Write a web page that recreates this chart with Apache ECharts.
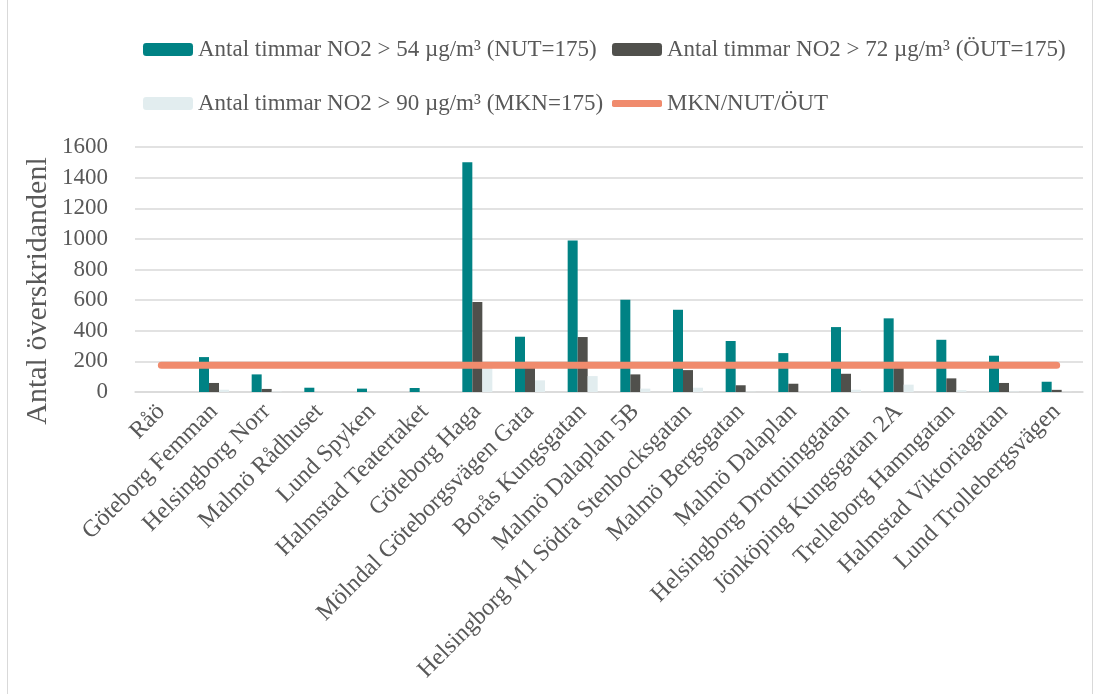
<!DOCTYPE html>
<html>
<head>
<meta charset="utf-8">
<script src="https://cdn.jsdelivr.net/npm/echarts@6/dist/echarts.min.js"></script>
<style>
  html, body { margin: 0; padding: 0; background: #ffffff; }
  #chart { width: 1099px; height: 694px; }
</style>
</head>
<body>
<div id="chart"></div>
<script>
// Mätstationer
const categories = [
  'Råö', 'Göteborg Femman', 'Helsingborg Norr', 'Malmö Rådhuset', 'Lund Spyken',
  'Halmstad Teatertaket', 'Göteborg Haga', 'Mölndal Göteborgsvägen Gata', 'Borås Kungsgatan',
  'Malmö Dalaplan 5B', 'Helsingborg M1 Södra Stenbocksgatan', 'Malmö Bergsgatan', 'Malmö Dalaplan',
  'Helsingborg Drottninggatan', 'Jönköping Kungsgatan 2A', 'Trelleborg Hamngatan',
  'Halmstad Viktoriagatan', 'Lund Trollebergsvägen'
];

// Antal timmar över respektive nivå
const over54 = [0, 228, 115, 28, 22, 26, 1501, 361, 989, 602, 537, 333, 254, 424, 481, 341, 237, 67];
const over72 = [0, 59, 20, 0, 0, 0, 587, 165, 359, 115, 143, 44, 54, 119, 165, 89, 59, 14];
const over90 = [0, 15, 3, 0, 0, 0, 180, 76, 104, 22, 28, 2, 0, 15, 48, 12, 3, 1];

// Gränsvärde (MKN/NUT/ÖUT = 175 timmar)
const limit = [175, 175, 175, 175, 175, 175, 175, 175, 175, 175, 175, 175, 175, 175, 175, 175, 175, 175];

const yTicks = { min: 0, max: 1600, interval: 200 };

const names = [
  'Antal timmar NO2 > 54 µg/m³ (NUT=175)',
  'Antal timmar NO2 > 72 µg/m³ (ÖUT=175)',
  'Antal timmar NO2 > 90 µg/m³ (MKN=175)',
  'MKN/NUT/ÖUT'
];

const FONT = '"Liberation Serif", "DejaVu Serif", serif';
const TEXT = '#595959';
const COLORS = ['#008284', '#50504C', '#E2EDEF', '#F08B6D'];

const legendText = { fontFamily: FONT, fontSize: 23, color: TEXT };
function legendAt(name, left, top, extra) {
  return Object.assign({
    data: [name], left: left, top: top, itemWidth: 50, itemHeight: 13,
    itemGap: 0, textStyle: legendText, selectedMode: false, padding: 0
  }, extra || {});
}

const chart = echarts.init(document.getElementById('chart'), null, { renderer: 'canvas' });

chart.setOption({
  animation: false,
  color: COLORS,
  textStyle: { fontFamily: FONT },
  legend: [
    legendAt(names[0], 143, 38),
    legendAt(names[1], 612, 38),
    legendAt(names[2], 143, 92),
    legendAt(names[3], 612, 92, {
      itemHeight: 7,
      data: [{ name: names[3], icon: 'roundRect', itemStyle: { color: COLORS[3] } }]
    })
  ],
  graphic: [
    { type: 'line', shape: { x1: 7.5, y1: 0, x2: 7.5, y2: 694 }, style: { stroke: '#D9D9D9', lineWidth: 1 } },
    { type: 'line', shape: { x1: 1092.5, y1: 0, x2: 1092.5, y2: 694 }, style: { stroke: '#D9D9D9', lineWidth: 1 } },
    {
      type: 'text', x: 38, y: 291, rotation: Math.PI / 2,
      style: {
        text: 'Antal överskridandenl', font: '30px ' + FONT, fill: TEXT,
        align: 'center', verticalAlign: 'middle'
      }
    }
  ],
  grid: { left: 135, right: 16, top: 147, bottom: 302, containLabel: false },
  xAxis: {
    type: 'category',
    data: categories,
    axisLine: { lineStyle: { color: '#D9D9D9', width: 1.5 } },
    axisTick: { show: false },
    axisLabel: {
      rotate: 45, interval: 0, margin: 16,
      fontFamily: FONT, fontSize: 24, color: TEXT
    }
  },
  yAxis: {
    type: 'value',
    min: yTicks.min, max: yTicks.max, interval: yTicks.interval,
    axisLine: { show: false },
    axisTick: { show: false },
    splitLine: { lineStyle: { color: '#D9D9D9', width: 1.5 } },
    axisLabel: {
      margin: 27, fontFamily: FONT, fontSize: 23, color: TEXT,
      formatter: function (v) { return String(v); }
    }
  },
  series: [
    { name: names[0], type: 'bar', data: over54, barWidth: 10, barGap: '0%', itemStyle: { color: COLORS[0] } },
    { name: names[1], type: 'bar', data: over72, barWidth: 10, barGap: '0%', itemStyle: { color: COLORS[1] } },
    { name: names[2], type: 'bar', data: over90, barWidth: 10, barGap: '0%', itemStyle: { color: COLORS[2] } },
    {
      name: names[3], type: 'line', data: limit, symbol: 'none', z: 5,
      lineStyle: { color: COLORS[3], width: 7, cap: 'round' },
      itemStyle: { color: COLORS[3] }
    }
  ]
});
</script>
</body>
</html>
